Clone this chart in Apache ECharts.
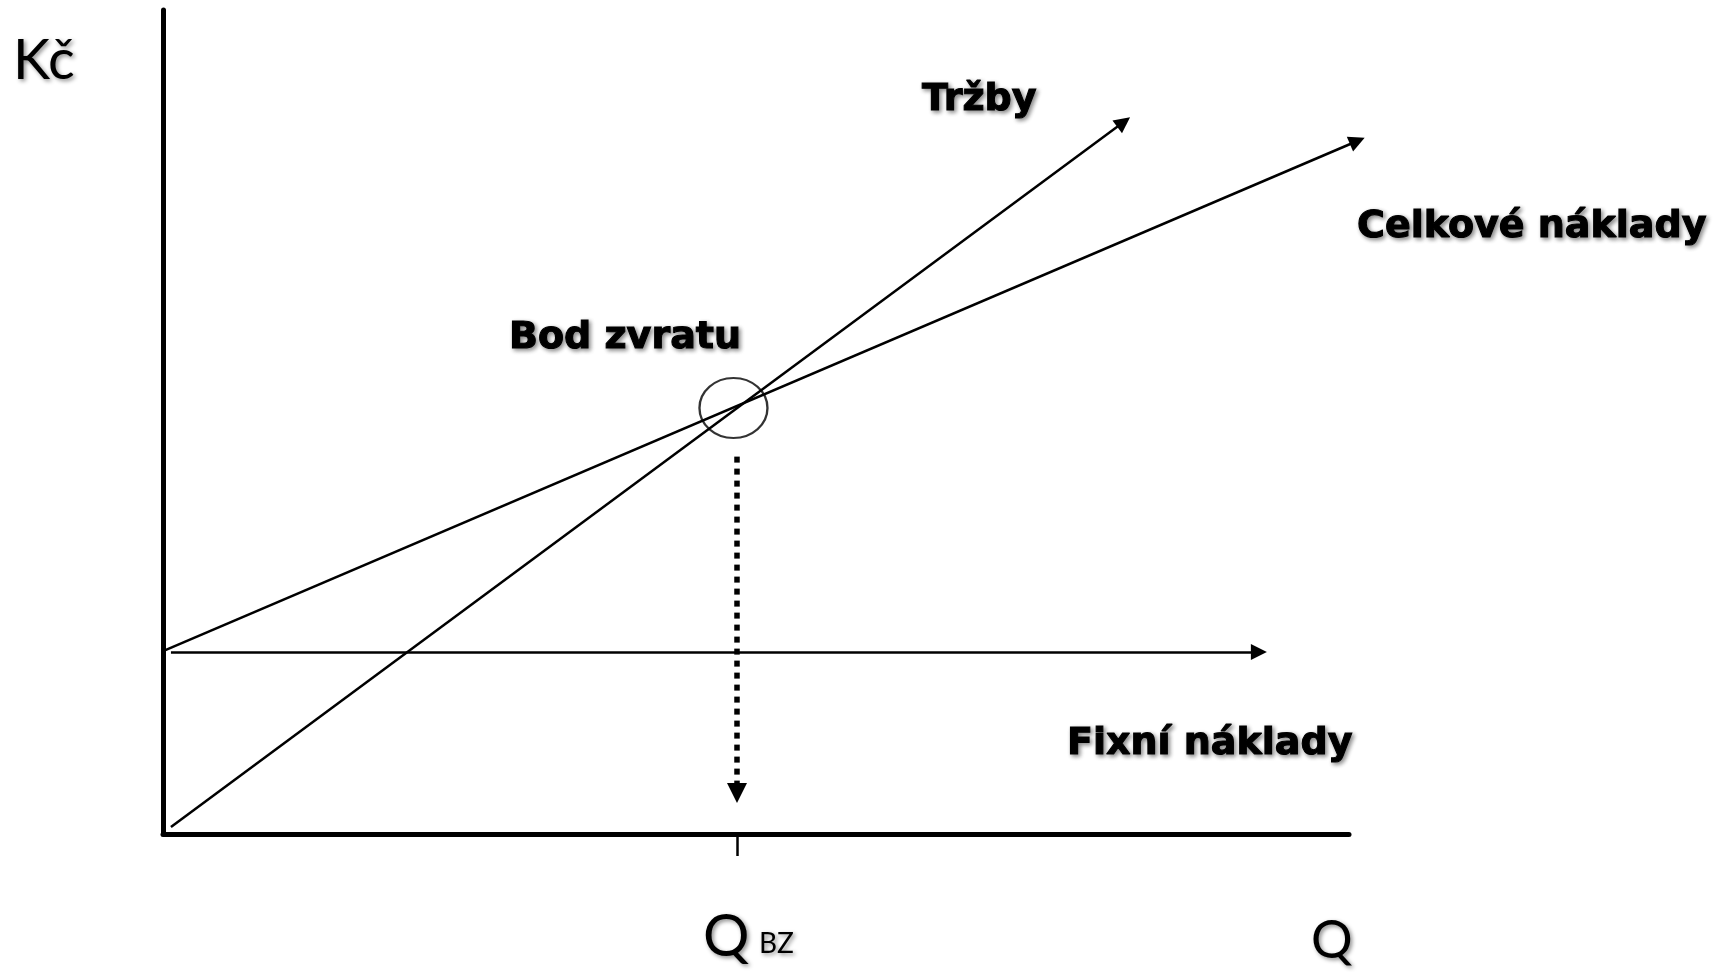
<!DOCTYPE html>
<html>
<head>
<meta charset="utf-8">
<title>Bod zvratu</title>
<script src="https://cdn.jsdelivr.net/npm/echarts@6/dist/echarts.min.js"></script>
<style>
  html, body { margin: 0; padding: 0; background: #fff; }
  #main { width: 1720px; height: 977px; }
</style>
</head>
<body>
<div id="main"></div>
<script>
// axis ranges (Q = quantity, Kč = money), arbitrary units
var qRange = [0, 100];
var kcRange = [0, 100];

// line endpoints [Q, Kč]
var trzby = [[0.67, 0.85], [81.0, 86.4]];
var celkoveNaklady = [[0, 22.2], [100.7, 84.1]];
var fixniNaklady = [[0.67, 22.1], [92.4, 22.1]];
var bodZvratu = [48.1, 51.7];
var qBz = 48.4;
var qBzDrop = [[qBz, 45.8], [qBz, 4.98]];

var shadow = {
  textShadowColor: 'rgba(0,0,0,0.45)',
  textShadowBlur: 4,
  textShadowOffsetX: 2,
  textShadowOffsetY: 2
};

function label(text, x, y, font, heavy) {
  var style = Object.assign({
    text: text,
    fill: '#000',
    font: font,
    verticalAlign: 'middle',
    align: 'left'
  }, shadow);
  if (heavy) {
    // DejaVu bold is lighter than the original Verdana/Tahoma bold
    style.stroke = '#000';
    style.lineWidth = 1.1;
  }
  return { type: 'text', x: x, y: y, style: style };
}

var boldFont = 'bold 38px "DejaVu Sans"';

var myChart = echarts.init(document.getElementById('main'));
var option = {
  backgroundColor: '#fff',
  animation: false,
  grid: { left: 163, right: 371, top: 10, bottom: 143, outerBoundsMode: 'none' },
  xAxis: {
    type: 'value',
    min: qRange[0],
    max: qRange[1],
    splitLine: { show: false },
    axisLabel: { show: false },
    axisLine: { show: true, lineStyle: { color: '#000', width: 5 } },
    axisTick: {
      show: true,
      inside: false,
      length: 22,
      customValues: [qBz],
      lineStyle: { color: '#000', width: 2.5 }
    }
  },
  yAxis: {
    type: 'value',
    min: kcRange[0],
    max: kcRange[1],
    splitLine: { show: false },
    axisLabel: { show: false },
    axisTick: { show: false },
    axisLine: { show: true, lineStyle: { color: '#000', width: 5 } }
  },
  series: [
    {
      name: 'Tržby',
      type: 'lines',
      coordinateSystem: 'cartesian2d',
      clip: false,
      symbol: ['none', 'triangle'],
      symbolSize: [16, 16],
      lineStyle: { color: '#000', width: 2.5, opacity: 1 },
      data: [{ coords: trzby }]
    },
    {
      name: 'Celkové náklady',
      type: 'lines',
      coordinateSystem: 'cartesian2d',
      clip: false,
      symbol: ['none', 'triangle'],
      symbolSize: [16, 16],
      lineStyle: { color: '#000', width: 2.5, opacity: 1 },
      data: [{ coords: celkoveNaklady }]
    },
    {
      name: 'Fixní náklady',
      type: 'lines',
      coordinateSystem: 'cartesian2d',
      clip: false,
      symbol: ['none', 'triangle'],
      symbolSize: [16, 16],
      lineStyle: { color: '#000', width: 2.5, opacity: 1 },
      data: [{ coords: fixniNaklady }]
    },
    {
      name: 'Q BZ',
      type: 'lines',
      coordinateSystem: 'cartesian2d',
      clip: false,
      symbol: ['none', 'triangle'],
      symbolSize: [18, 20],
      lineStyle: { color: '#000', width: 5.5, type: [6, 6], opacity: 1 },
      data: [{ coords: qBzDrop }]
    },
    {
      name: 'Bod zvratu',
      type: 'scatter',
      clip: false,
      symbol: 'circle',
      symbolSize: [68, 60],
      itemStyle: { color: 'rgba(0,0,0,0)', borderColor: '#000', borderWidth: 2.2 },
      data: [bodZvratu]
    }
  ],
  graphic: [
    label('Kč', 13, 61, '56px Lato'),
    label('Tržby', 922, 100, boldFont, true),
    label('Celkové náklady', 1357, 227, boldFont, true),
    label('Bod zvratu', 509, 338, boldFont, true),
    label('Fixní náklady', 1067, 744, boldFont, true),
    label('Q', 703, 937, '58px Lato'),
    label('BZ', 759, 944, '28px Lato'),
    label('Q', 1311, 941, '52px Lato')
  ]
};
myChart.setOption(option);
</script>
</body>
</html>
